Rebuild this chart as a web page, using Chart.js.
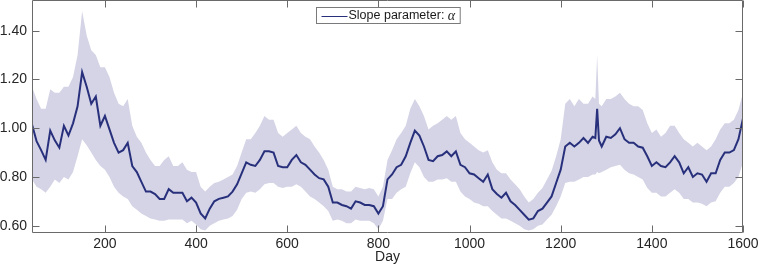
<!DOCTYPE html>
<html><head><meta charset="utf-8">
<script src="https://cdn.jsdelivr.net/npm/chart.js@4/dist/chart.umd.min.js"></script>
<style>html,body{margin:0;padding:0;background:#fff}#wrap{width:758px;height:267px}</style>
</head><body><div id="wrap"><canvas id="c" width="758" height="267"></canvas></div>
<script>
const days = [40,50,60,70,80,90,100,110,120,130,140,150,160,170,180,190,200,210,220,230,240,250,260,270,280,290,300,310,320,330,340,350,360,370,380,390,400,410,420,430,440,450,460,470,480,490,500,510,520,530,540,550,560,570,580,590,600,610,620,630,640,650,660,670,680,690,700,710,720,730,740,750,760,770,780,790,800,810,820,830,840,850,860,870,880,890,900,910,920,930,940,950,960,970,980,990,1000,1010,1020,1030,1040,1050,1060,1070,1080,1090,1100,1110,1120,1130,1140,1150,1160,1170,1180,1190,1200,1210,1220,1230,1240,1250,1260,1270,1276,1280,1284,1290,1300,1310,1320,1330,1340,1350,1360,1370,1380,1390,1400,1410,1420,1430,1440,1450,1460,1470,1480,1490,1500,1510,1520,1530,1540,1550,1560,1570,1580,1590,1600];
const alpha = [1.015,0.947,0.91,0.87,0.99,0.95,0.92,1.01,0.97,1.02,1.09,1.23,1.17,1.10,1.13,1.01,1.05,0.995,0.94,0.90,0.91,0.94,0.845,0.82,0.78,0.74,0.74,0.73,0.71,0.71,0.75,0.735,0.735,0.735,0.70,0.715,0.695,0.65,0.63,0.67,0.70,0.71,0.715,0.72,0.74,0.77,0.815,0.86,0.85,0.845,0.87,0.905,0.905,0.90,0.845,0.84,0.84,0.87,0.89,0.86,0.85,0.83,0.81,0.795,0.79,0.76,0.695,0.695,0.685,0.68,0.67,0.70,0.695,0.685,0.685,0.68,0.65,0.68,0.79,0.81,0.84,0.85,0.885,0.94,0.99,0.97,0.925,0.87,0.865,0.885,0.89,0.905,0.885,0.905,0.85,0.84,0.815,0.81,0.795,0.78,0.81,0.75,0.73,0.715,0.735,0.70,0.685,0.665,0.645,0.625,0.63,0.66,0.67,0.695,0.72,0.775,0.83,0.925,0.94,0.925,0.94,0.96,0.94,0.965,0.96,1.08,0.95,0.925,0.965,0.96,0.975,1.0,0.955,0.94,0.94,0.925,0.92,0.885,0.845,0.86,0.845,0.84,0.86,0.885,0.86,0.815,0.84,0.80,0.815,0.81,0.78,0.815,0.815,0.87,0.90,0.90,0.91,0.955,1.04];
const upper = [1.17,1.12,1.08,1.08,1.16,1.145,1.145,1.17,1.17,1.21,1.30,1.48,1.38,1.32,1.30,1.25,1.25,1.21,1.145,1.10,1.09,1.12,1.01,0.965,0.94,0.90,0.87,0.845,0.845,0.87,0.885,0.845,0.845,0.86,0.83,0.82,0.82,0.76,0.74,0.76,0.775,0.78,0.79,0.80,0.81,0.845,0.90,0.955,0.955,0.98,1.01,1.05,1.035,1.035,0.98,0.965,0.98,0.995,1.01,0.98,0.965,0.955,0.925,0.90,0.87,0.83,0.76,0.75,0.75,0.74,0.74,0.76,0.755,0.75,0.755,0.75,0.72,0.76,0.87,0.91,0.955,0.98,1.01,1.08,1.12,1.09,1.05,0.995,1.01,1.02,1.035,1.05,1.035,1.05,0.98,0.955,0.94,0.925,0.91,0.90,0.91,0.86,0.83,0.815,0.815,0.79,0.77,0.75,0.72,0.695,0.71,0.735,0.755,0.79,0.825,0.885,0.955,1.10,1.12,1.09,1.12,1.10,1.10,1.13,1.12,1.30,1.10,1.09,1.12,1.12,1.13,1.145,1.12,1.10,1.09,1.09,1.075,1.02,0.98,0.995,0.965,0.98,1.01,1.01,0.98,0.955,0.94,0.925,0.94,0.925,0.91,0.925,0.955,0.995,1.02,1.02,1.035,1.075,1.145];
const lower = [0.79,0.76,0.75,0.735,0.76,0.79,0.775,0.80,0.79,0.82,0.885,0.955,0.93,0.90,0.87,0.845,0.83,0.80,0.76,0.735,0.72,0.71,0.68,0.665,0.65,0.64,0.63,0.625,0.62,0.62,0.625,0.625,0.625,0.625,0.61,0.62,0.605,0.585,0.58,0.60,0.61,0.62,0.625,0.63,0.64,0.665,0.71,0.735,0.74,0.735,0.75,0.77,0.775,0.775,0.76,0.755,0.76,0.76,0.77,0.76,0.74,0.72,0.71,0.695,0.68,0.66,0.62,0.625,0.62,0.61,0.61,0.625,0.62,0.62,0.62,0.61,0.585,0.62,0.71,0.71,0.735,0.75,0.76,0.815,0.86,0.84,0.80,0.78,0.78,0.79,0.79,0.795,0.78,0.78,0.74,0.72,0.71,0.695,0.69,0.68,0.68,0.66,0.645,0.63,0.63,0.62,0.61,0.60,0.585,0.58,0.585,0.60,0.605,0.625,0.645,0.68,0.72,0.775,0.78,0.78,0.79,0.80,0.80,0.81,0.81,0.82,0.815,0.82,0.83,0.84,0.845,0.85,0.83,0.815,0.81,0.80,0.79,0.755,0.735,0.735,0.72,0.72,0.735,0.75,0.735,0.71,0.71,0.695,0.695,0.69,0.68,0.695,0.70,0.735,0.76,0.76,0.775,0.80,0.86];
const xTicks = [200,400,600,800,1000,1200,1400,1600];
const yTicks = [0.6,0.8,1.0,1.2,1.4];
const seriesLabel = 'Slope parameter: ';
const seriesSymbol = 'α';
const xTitle = 'Day';

const FONT = "'Liberation Sans', Arial, Helvetica, sans-serif";
Chart.defaults.font.family = FONT;
const NAVY = '#28307c';
const BAND = '#d4d4e6';
const AXIS = '#6a6a6a';

const pts = arr => days.map((d, i) => ({x: d, y: arr[i]}));

const framePlugin = {
  id: 'frame',
  afterDatasetsDraw(chart) {
    const {ctx, chartArea: a, scales: {x, y}} = chart;
    ctx.save();
    ctx.strokeStyle = AXIS;
    ctx.lineWidth = 1;
    const L = Math.round(a.left) + 0.5, R = Math.round(a.right) - 0.5;
    const T = Math.round(a.top) - 0.5, B = Math.round(a.bottom) - 0.5;
    ctx.beginPath();
    ctx.rect(L, T, R - L, B - T);
    const tl = 7;
    xTicks.forEach(v => {
      const px = Math.round(x.getPixelForValue(v)) + 0.5;
      ctx.moveTo(px, B); ctx.lineTo(px, B - tl);
      ctx.moveTo(px, T); ctx.lineTo(px, T + tl);
    });
    yTicks.forEach(v => {
      const py = Math.round(y.getPixelForValue(v)) + 0.5;
      ctx.moveTo(L, py); ctx.lineTo(L + tl, py);
      ctx.moveTo(R, py); ctx.lineTo(R - tl, py);
    });
    ctx.stroke();
    ctx.restore();
  }
};

const legendPlugin = {
  id: 'boxLegend',
  afterDraw(chart) {
    const {ctx, chartArea: a} = chart;
    ctx.save();
    const f1 = "12.5px " + FONT;
    const f2 = "italic 14px 'Liberation Serif', 'DejaVu Serif', serif";
    ctx.font = f1;
    const w1 = ctx.measureText(seriesLabel).width;
    ctx.font = f2;
    const w2 = ctx.measureText(seriesSymbol).width;
    const lineLen = 26, padL = 5, gap = 1, padR = 5;
    const w = padL + lineLen + gap + w1 + w2 + padR;
    const h = 16;
    const left = Math.round((a.left + a.right) / 2 - w / 2) + 0.5;
    const top = Math.round(a.top + 6) + 0.5;
    ctx.fillStyle = '#fff';
    ctx.fillRect(left, top, w, h);
    ctx.strokeStyle = '#7a7a7a';
    ctx.lineWidth = 1;
    ctx.strokeRect(left, top, w, h);
    const my = top + h / 2;
    ctx.strokeStyle = NAVY;
    ctx.beginPath();
    ctx.moveTo(left + padL, Math.round(my) + 0.5);
    ctx.lineTo(left + padL + lineLen, Math.round(my) + 0.5);
    ctx.stroke();
    ctx.fillStyle = '#1a1a1a';
    ctx.textBaseline = 'middle';
    ctx.textAlign = 'left';
    ctx.font = f1;
    const tx = left + padL + lineLen + gap;
    ctx.fillText(seriesLabel, tx, my + 0.5);
    ctx.font = f2;
    ctx.fillText(seriesSymbol, tx + w1, my + 0.5);
    ctx.restore();
  }
};

new Chart(document.getElementById('c'), {
  type: 'line',
  data: {
    datasets: [
      {label: seriesLabel + seriesSymbol, data: pts(alpha), borderColor: NAVY, borderWidth: 2, pointRadius: 0, fill: false, tension: 0, order: 0},
      {label: 'upper', data: pts(upper), borderColor: 'rgba(0,0,0,0)', borderWidth: 0, backgroundColor: BAND, pointRadius: 0, fill: '+1', tension: 0, order: 1},
      {label: 'lower', data: pts(lower), borderColor: 'rgba(0,0,0,0)', borderWidth: 0, pointRadius: 0, fill: false, tension: 0, order: 2}
    ]
  },
  options: {
    responsive: false,
    devicePixelRatio: 1,
    animation: false,
    layout: {padding: {left: 0, right: 15, top: 1, bottom: 0}},
    plugins: {legend: {display: false}, tooltip: {enabled: false}},
    scales: {
      x: {
        type: 'linear', min: 40, max: 1600,
        afterBuildTicks: s => { s.ticks = xTicks.map(v => ({value: v})); },
        afterFit: s => { s.height = 34; s.paddingLeft = 0; s.paddingRight = 0; },
        ticks: {font: {size: 14}, color: '#262626', padding: 3, maxRotation: 0, autoSkip: false, callback: v => String(v)},
        grid: {display: false, drawTicks: false},
        border: {display: false},
        title: {display: true, text: xTitle, color: '#262626', font: {size: 14}, padding: {top: 0, bottom: 1}}
      },
      y: {
        type: 'linear', min: 0.570, max: 1.522,
        afterBuildTicks: s => { s.ticks = yTicks.map(v => ({value: v})); },
        afterFit: s => { s.width = 32; s.paddingTop = 0; s.paddingBottom = 0; },
        ticks: {font: {size: 14}, color: '#262626', padding: 5, callback: v => Number(v).toFixed(2)},
        grid: {display: false, drawTicks: false},
        border: {display: false}
      }
    }
  },
  plugins: [framePlugin, legendPlugin]
});
</script>
</body></html>
